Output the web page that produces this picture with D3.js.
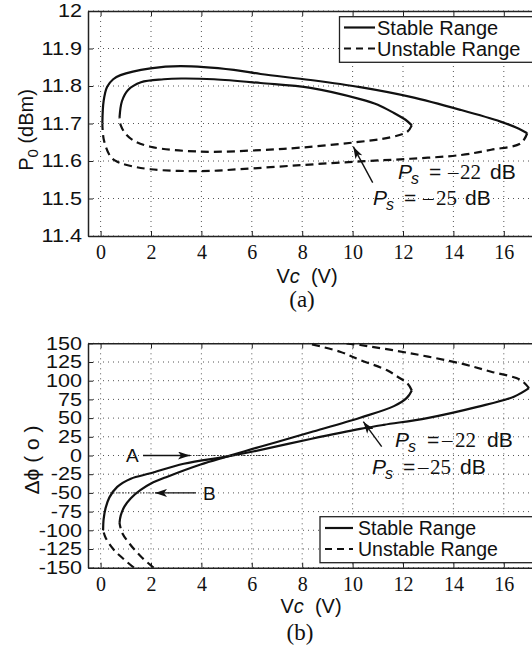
<!DOCTYPE html>
<html>
<head>
<meta charset="utf-8">
<script src="https://cdn.jsdelivr.net/npm/d3@7"></script>
<style>
  body { margin: 0; background: #fff; }
  svg { display: block; }
</style>
</head>
<body>
<svg id="chart" width="532" height="650"></svg>
<script>
// tick values
let vcTicks = [0, 2, 4, 6, 8, 10, 12, 14, 16];
let p0Ticks = [11.4, 11.5, 11.6, 11.7, 11.8, 11.9, 12];
let phiTicks = [-150, -125, -100, -75, -50, -25, 0, 25, 50, 75, 100, 125, 150];

// (a) output power, [Vc, P0]
let p0Stable22 = [[0.75, 11.715], [0.85, 11.76], [1.1, 11.79], [1.6, 11.81], [2.5, 11.818], [3.2, 11.82],
  [4.5, 11.818], [6.35, 11.808], [8.33, 11.795], [10.3, 11.765], [11.0, 11.75], [11.64, 11.728],
  [12.1, 11.71], [12.35, 11.695]];
let p0Unstable22 = [[12.35, 11.695], [12.17, 11.678], [11.5, 11.663], [10.0, 11.649], [8.0, 11.636],
  [6.35, 11.629], [3.97, 11.625], [1.98, 11.638], [1.3, 11.655], [1.0, 11.672], [0.8, 11.695], [0.75, 11.715]];
let p0Stable25 = [[0.07, 11.70], [0.12, 11.76], [0.26, 11.798], [0.5, 11.818], [0.79, 11.829], [1.98, 11.847],
  [3.17, 11.853], [5.29, 11.843], [6.35, 11.832], [8.33, 11.816], [10.3, 11.797], [12.3, 11.771],
  [14.3, 11.736], [15.87, 11.705], [16.6, 11.686], [16.93, 11.674]];
let p0Unstable25 = [[16.93, 11.674], [16.67, 11.647], [15.5, 11.63], [14.3, 11.616], [12.3, 11.606],
  [10.3, 11.599], [7.94, 11.589], [5.5, 11.578], [3.97, 11.573], [1.98, 11.578], [1.0, 11.59],
  [0.66, 11.598], [0.4, 11.611], [0.13, 11.656], [0.07, 11.70]];

// (b) phase difference, [Vc, dphi]
let phiStable22 = [[0.75, -90], [0.8, -80], [0.95, -68], [1.2, -57], [1.59, -46], [2.0, -37.5], [2.65, -28.3],
  [3.97, -12], [5.0, -1.5], [6.0, 8.5], [7.0, 18], [8.33, 31], [10.3, 50.5], [11.64, 66], [12.15, 77], [12.35, 87]];
let phiUnstable22a = [[2.1, -150], [1.6, -135], [1.15, -118], [0.85, -103], [0.75, -90]];
let phiUnstable22b = [[12.35, 87], [12.17, 96.5], [11.8, 105], [11.37, 114], [10.3, 127.7], [9.5, 138.8], [8.2, 150]];
let phiStable25 = [[0.1, -100], [0.12, -85], [0.2, -70], [0.35, -56], [0.66, -42], [1.2, -31], [1.98, -23.8],
  [3.3, -11], [5.0, -1.5], [6.0, 5], [8.33, 22], [10.3, 35.5], [11.24, 41], [12.96, 50], [14.95, 65],
  [16.4, 78.6], [17.0, 90]];
let phiUnstable25a = [[1.32, -150], [0.9, -138], [0.5, -125], [0.2, -110], [0.1, -100]];
let phiUnstable25b = [[17.0, 90], [16.67, 101], [15.5, 112], [14.3, 123], [12.3, 136.6], [10.3, 147.7], [9.7, 150]];

let sans = "'Liberation Sans', Arial, sans-serif";
let serif = "'Liberation Serif', 'Times New Roman', serif";

let svg = d3.select("#chart");

let x = d3.scaleLinear().domain([-0.5, 17.5]).range([88, 541.6]);
let yA = d3.scaleLinear().domain([11.4, 12]).range([236, 11]);
let yB = d3.scaleLinear().domain([-150, 150]).range([567.7, 343.3]);

svg.append("defs").append("marker")
  .attr("id", "arrow")
  .attr("viewBox", "0 0 12 8")
  .attr("refX", 12).attr("refY", 4)
  .attr("markerWidth", 12).attr("markerHeight", 8)
  .attr("markerUnits", "userSpaceOnUse")
  .attr("orient", "auto")
  .append("path")
  .attr("d", "M0,0 L12,4 L0,8 L3,4 Z")
  .attr("fill", "#111");

function panel(y, ticks, fmt, id) {
  let top = y.range()[1], bottom = y.range()[0];
  let left = x.range()[0], right = x.range()[1];
  let g = svg.append("g");

  g.append("clipPath").attr("id", id)
    .append("rect").attr("x", left).attr("y", top).attr("width", right - left).attr("height", bottom - top);

  // grid
  g.selectAll(".vgrid").data(vcTicks).enter().append("line")
    .attr("x1", d => x(d)).attr("x2", d => x(d)).attr("y1", top).attr("y2", bottom)
    .attr("stroke", "#555").attr("stroke-width", 1).attr("stroke-dasharray", "1,4");
  g.selectAll(".hgrid").data(ticks).enter().append("line")
    .attr("x1", left).attr("x2", right).attr("y1", d => y(d)).attr("y2", d => y(d))
    .attr("stroke", "#555").attr("stroke-width", 1).attr("stroke-dasharray", "1,4");

  // axes, ticks inward
  let ax = g.append("g").attr("transform", `translate(0,${bottom})`)
    .call(d3.axisBottom(x).tickValues(vcTicks).tickSize(-5).tickSizeOuter(0));
  ax.selectAll("text").attr("dy", null).attr("y", 23)
    .style("font-family", serif).style("font-size", "20px").attr("fill", "#111");

  let axTop = g.append("g").attr("transform", `translate(0,${top})`)
    .call(d3.axisTop(x).tickValues(vcTicks).tickSize(-5).tickSizeOuter(0).tickFormat(""));

  let ay = g.append("g").attr("transform", `translate(${left},0)`)
    .call(d3.axisLeft(y).tickValues(ticks).tickSize(-5).tickSizeOuter(0).tickPadding(6).tickFormat(fmt));
  ay.selectAll("text").attr("transform", "scale(1.2,1)").attr("x", -6 / 1.2)
    .style("font-family", sans).style("font-size", "18px").attr("fill", "#111");

  [ax, axTop, ay].forEach(a => {
    a.select(".domain").attr("stroke", "#222").attr("stroke-width", 1.5);
    a.selectAll(".tick line").attr("stroke", "#222").attr("stroke-width", 1);
  });
  return g;
}

let line = y => d3.line().x(d => x(d[0])).y(d => y(d[1])).curve(d3.curveCatmullRom.alpha(0.5));

function curve(g, data, y, dashed, clip) {
  g.append("path").datum(data)
    .attr("d", line(y))
    .attr("fill", "none").attr("stroke", "#111").attr("stroke-width", 2.2)
    .attr("stroke-dasharray", dashed ? "8,5" : null)
    .attr("clip-path", `url(#${clip})`);
}

function legend(bx, by, bh, lx1, lx2, tx, yS, yU, fs) {
  svg.append("rect").attr("x", bx).attr("y", by).attr("width", 532 - bx + 20).attr("height", bh)
    .attr("fill", "#fff").attr("stroke", "#222").attr("stroke-width", 1.3);
  svg.append("line").attr("x1", lx1).attr("x2", lx2).attr("y1", yS - 7).attr("y2", yS - 7)
    .attr("stroke", "#111").attr("stroke-width", 2.2);
  svg.append("line").attr("x1", lx1).attr("x2", lx2).attr("y1", yU - 7).attr("y2", yU - 7)
    .attr("stroke", "#111").attr("stroke-width", 2.2).attr("stroke-dasharray", "7,5");
  svg.append("text").attr("x", tx).attr("y", yS).text("Stable Range")
    .style("font-family", sans).style("font-size", fs + "px").attr("fill", "#111");
  svg.append("text").attr("x", tx).attr("y", yU).text("Unstable Range")
    .style("font-family", sans).style("font-size", fs + "px").attr("fill", "#111");
}

function psLabel(x0, base, num, pos) {
  let t = svg.append("text").attr("y", base).attr("fill", "#111").style("font-size", "21px");
  t.append("tspan").attr("x", x0 + pos[0]).style("font-family", sans).style("font-style", "italic").text("P");
  t.append("tspan").attr("x", x0 + pos[1]).attr("y", base + 5).style("font-family", sans)
    .style("font-style", "italic").style("font-size", "16px").text("s");
  t.append("tspan").attr("x", x0 + pos[2]).attr("y", base).style("font-family", sans).text("=");
  t.append("tspan").attr("x", x0 + pos[3]).style("font-family", serif).text("–");
  t.append("tspan").attr("x", x0 + pos[4]).style("font-family", serif).text(num);
  t.append("tspan").attr("x", x0 + pos[5]).style("font-family", sans).text("dB");
}

function xLabel(cx, base) {
  let t = svg.append("text").attr("x", cx).attr("y", base).attr("text-anchor", "middle")
    .style("font-family", sans).style("font-size", "20px").attr("fill", "#111");
  t.append("tspan").text("V");
  t.append("tspan").style("font-style", "italic").text("c");
  t.append("tspan").text("\u00a0 (V)");
}

function arrow(x1, y1, x2, y2) {
  svg.append("line").attr("x1", x1).attr("y1", y1).attr("x2", x2).attr("y2", y2)
    .attr("stroke", "#111").attr("stroke-width", 1.4).attr("marker-end", "url(#arrow)");
}

// ---------- (a) ----------
let gA = panel(yA, p0Ticks, d => +d.toFixed(1), "clipA");
curve(gA, p0Stable22, yA, false, "clipA");
curve(gA, p0Unstable22, yA, true, "clipA");
curve(gA, p0Stable25, yA, false, "clipA");
curve(gA, p0Unstable25, yA, true, "clipA");

legend(339.5, 16.7, 45.6, 344, 375, 377, 34.5, 55.5, 20);
arrow(372.7, 182.7, 353.3, 146.7);
psLabel(398, 179, "22", [0, 13, 31, 50, 62, 92]);
psLabel(373, 205, "25", [0, 13, 31, 50, 63, 92]);

xLabel(307, 283);
svg.append("text").attr("x", 302).attr("y", 307).attr("text-anchor", "middle")
  .style("font-family", serif).style("font-size", "23px").attr("fill", "#111").text("(a)");

let yl = svg.append("text").attr("transform", "translate(33,130) rotate(-90)").attr("text-anchor", "middle")
  .style("font-family", sans).style("font-size", "20px").attr("fill", "#111");
yl.append("tspan").text("P");
yl.append("tspan").attr("dy", 5).style("font-size", "15px").text("0");
yl.append("tspan").attr("dy", -5).text(" (dBm)");

// ---------- (b) ----------
let gB = panel(yB, phiTicks, d => d, "clipB");
curve(gB, phiStable22, yB, false, "clipB");
curve(gB, phiUnstable22a, yB, true, "clipB");
curve(gB, phiUnstable22b, yB, true, "clipB");
curve(gB, phiStable25, yB, false, "clipB");
curve(gB, phiUnstable25a, yB, true, "clipB");
curve(gB, phiUnstable25b, yB, true, "clipB");

// A and B markers
svg.append("line").attr("x1", 190).attr("x2", 267).attr("y1", yB(0)).attr("y2", yB(0))
  .attr("stroke", "#333").attr("stroke-width", 1).attr("stroke-dasharray", "1.5,1.5");
arrow(143, yB(0), 190, yB(0));
svg.append("text").attr("x", 126).attr("y", yB(0) + 6.5).text("A")
  .style("font-family", sans).style("font-size", "19px").attr("fill", "#111");
svg.append("line").attr("x1", 110).attr("x2", 155).attr("y1", yB(-50)).attr("y2", yB(-50))
  .attr("stroke", "#333").attr("stroke-width", 1).attr("stroke-dasharray", "1.5,1.5");
arrow(196, yB(-50), 155, yB(-50));
svg.append("text").attr("x", 203).attr("y", yB(-50) + 7.5).text("B")
  .style("font-family", sans).style("font-size", "19px").attr("fill", "#111");

arrow(381.7, 446.7, 363.3, 421.7);
psLabel(395, 447, "22", [0, 13, 32, 47, 60, 92]);
psLabel(372, 474, "25", [0, 13, 31, 46, 58, 88]);

legend(320, 516.7, 46, 325, 353, 358, 535, 556, 19.5);

xLabel(311, 613);
svg.append("text").attr("x", 300).attr("y", 640).attr("text-anchor", "middle")
  .style("font-family", serif).style("font-size", "23px").attr("fill", "#111").text("(b)");

let yl2 = svg.append("text").attr("transform", "translate(39,460) rotate(-90)").attr("text-anchor", "middle")
  .style("font-family", sans).style("font-size", "21px").attr("fill", "#111");
yl2.text("\u0394\u03d5 ( o )");
</script>
</body>
</html>
